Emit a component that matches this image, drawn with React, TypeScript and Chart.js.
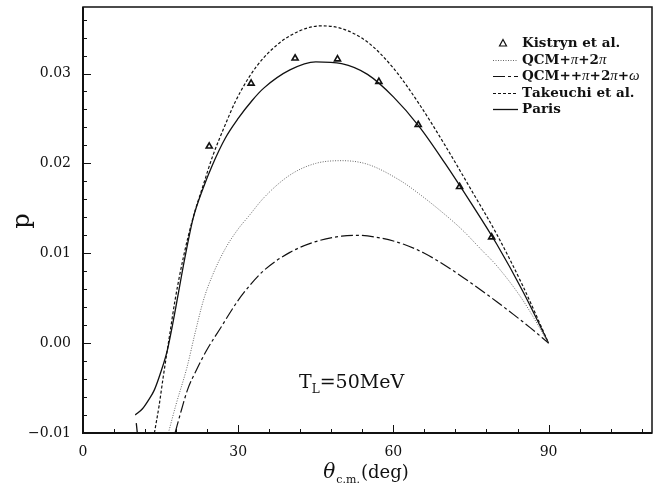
import React, { useEffect, useRef } from "react";
import { Chart, registerables } from "chart.js";

Chart.register(...registerables);

// ---- data (theta_cm in deg, p) ----
const kistrynTheta = [24.4, 32.5, 41.0, 49.2, 57.2, 64.8, 72.8, 79.0];
const kistrynP = [0.0219, 0.0289, 0.0317, 0.0316, 0.0291, 0.0243, 0.0174, 0.0118];

const qcmTheta = [16.5, 18, 20.1, 21.7, 23.3, 25, 27.5, 30, 32, 35, 40, 45, 50, 55, 61.3, 65, 70.6, 73.5, 77, 80, 85, 90];
const qcmP = [-0.01, -0.0068, -0.0027, 0.0012, 0.0048, 0.0075, 0.0105, 0.0127, 0.0141, 0.0162, 0.0187, 0.02, 0.0203, 0.0199, 0.0181, 0.0166, 0.014, 0.0125, 0.0104, 0.0086, 0.0048, 0];

const qcmOmegaTheta = [17.8, 19, 20.2, 22, 23.9, 26.5, 29.8, 32.5, 35, 40, 45, 50, 53, 57.5, 62, 66, 70.4, 75, 80, 83.2, 86.5, 90];
const qcmOmegaP = [-0.01, -0.0075, -0.0052, -0.0029, -0.0008, 0.0016, 0.0046, 0.0066, 0.0081, 0.0101, 0.0113, 0.0119, 0.012, 0.0117, 0.011, 0.01, 0.0085, 0.0067, 0.0046, 0.0032, 0.0017, 0];

const takeuchiTheta = [13.8, 14.7, 15.5, 16.8, 17.8, 19.5, 21.3, 23.2, 25, 27.5, 29.4, 32, 35, 40, 46, 50, 55, 60, 65, 70, 75, 80, 85, 90];
const takeuchiP = [-0.01, -0.007, -0.0038, 0.0011, 0.0048, 0.0098, 0.014, 0.0175, 0.0207, 0.0243, 0.0268, 0.0295, 0.0318, 0.0342, 0.0353, 0.035, 0.0335, 0.0306, 0.0266, 0.022, 0.0171, 0.0121, 0.0064, 0];

const parisTheta = [10.3, 10.5, null, 10.1, 11.5, 12.6, 13.8, 15, 16.3, 17.3, 18.2, 19.7, 21.3, 23.2, 25, 27.5, 30, 32.7, 35, 40, 45, 50, 55, 60, 65, 70, 75, 80, 85, 90];
const parisP = [-0.0089, -0.01, null, -0.008, -0.0073, -0.0064, -0.0052, -0.0033, -0.0008, 0.002, 0.0048, 0.0095, 0.0139, 0.0172, 0.0198, 0.0228, 0.025, 0.027, 0.0284, 0.0304, 0.0313, 0.0311, 0.0299, 0.0274, 0.0241, 0.02, 0.0156, 0.011, 0.0058, 0];

const xTickValues = [0, 6, 12, 18, 24, 30, 36, 42, 48, 54, 60, 66, 72, 78, 84, 90, 96, 102, 108];
const xLabelValues = [0, 30, 60, 90];
const xLabels = ["0", "30", "60", "90"];
const yTickValues = [-0.01, -0.008, -0.006, -0.004, -0.002, 0, 0.002, 0.004, 0.006, 0.008, 0.01, 0.012, 0.014, 0.016, 0.018, 0.02, 0.022, 0.024, 0.026, 0.028, 0.03, 0.032, 0.034, 0.036];
const yLabelValues = [-0.01, 0, 0.01, 0.02, 0.03];
const yLabels = ["\u22120.01", "0.00", "0.01", "0.02", "0.03"];

const legendLabels = ["Kistryn et al.", "QCM+\u03c0+2\u03c0", "QCM++\u03c0+2\u03c0+\u03c9", "Takeuchi et al.", "Paris"];

const toXY = (xs: (number | null)[], ys: (number | null)[]) =>
  xs.map((x, i) => ({ x: x as number, y: ys[i] as number }));

const SERIF = "'DejaVu Serif', 'Liberation Serif', serif";

function drawRuns(ctx: CanvasRenderingContext2D, text: string, x: number, y: number, latinFont: string, greekFont: string) {
  let cx = x;
  for (const ch of Array.from(text)) {
    const greek = /[\u0370-\u03ff]/.test(ch);
    ctx.font = greek ? greekFont : latinFont;
    ctx.fillText(ch, cx, y);
    cx += ctx.measureText(ch).width;
  }
}

const decorPlugin = {
  id: "decor",
  afterDraw(chart: any) {
    const ctx: CanvasRenderingContext2D = chart.ctx;
    const { left, right, top, bottom } = chart.chartArea;
    const xs = chart.scales.x;
    const ys = chart.scales.y;
    ctx.save();
    // frame
    ctx.strokeStyle = "#111";
    ctx.lineWidth = 1.5;
    ctx.strokeRect(left, top, right - left, bottom - top);
    ctx.lineWidth = 2;
    ctx.beginPath();
    ctx.moveTo(left, top);
    ctx.lineTo(left, bottom);
    ctx.lineTo(right, bottom);
    ctx.stroke();
    // ticks (inward)
    ctx.lineWidth = 1;
    ctx.beginPath();
    xTickValues.forEach((v) => {
      const px = Math.round(xs.getPixelForValue(v)) + 0.5;
      const len = xLabelValues.includes(v) ? 8 : 4;
      ctx.moveTo(px, bottom);
      ctx.lineTo(px, bottom - len);
    });
    yTickValues.forEach((v) => {
      const py = Math.round(ys.getPixelForValue(v)) + 0.5;
      const len = yLabelValues.some((l) => Math.abs(l - v) < 1e-9) ? 8 : 4;
      ctx.moveTo(left, py);
      ctx.lineTo(left + len, py);
    });
    ctx.stroke();
    // tick labels
    ctx.fillStyle = "#111";
    ctx.font = `14px ${SERIF}`;
    ctx.textAlign = "center";
    ctx.textBaseline = "middle";
    xLabelValues.forEach((v, i) => {
      ctx.fillText(xLabels[i], xs.getPixelForValue(v), 452);
    });
    ctx.textAlign = "right";
    yLabelValues.forEach((v, i) => {
      ctx.fillText(yLabels[i], 71, ys.getPixelForValue(v));
    });
    // y title
    ctx.save();
    ctx.translate(23, 221);
    ctx.rotate(-Math.PI / 2);
    ctx.textAlign = "center";
    ctx.textBaseline = "middle";
    ctx.font = `24px ${SERIF}`;
    ctx.fillText("p", 0, 0);
    ctx.restore();
    // x title
    ctx.textAlign = "left";
    ctx.textBaseline = "alphabetic";
    const f1 = `italic 20px ${SERIF}`;
    const f2 = `11px ${SERIF}`;
    const f3 = `18px ${SERIF}`;
    ctx.font = f1; const w1 = ctx.measureText("\u03b8").width;
    ctx.font = f2; const w2 = ctx.measureText("c.m.").width;
    ctx.font = f3; const w3 = ctx.measureText("(deg)").width;
    let tx = 366 - (w1 + w2 + w3 + 2) / 2;
    const by = 478;
    ctx.font = f1; ctx.fillText("\u03b8", tx, by); tx += w1 + 1;
    ctx.font = f2; ctx.fillText("c.m.", tx, by + 5); tx += w2 + 1;
    ctx.font = f3; ctx.fillText("(deg)", tx, by);
    // annotation T_L=50MeV
    let ax = 299;
    const ab = 388;
    ctx.font = `19px ${SERIF}`;
    ctx.fillText("T", ax, ab); ax += ctx.measureText("T").width;
    ctx.font = `12px ${SERIF}`;
    ctx.fillText("L", ax, ab + 5); ax += ctx.measureText("L").width;
    ctx.font = `19px ${SERIF}`;
    ctx.fillText("=50MeV", ax, ab);
    // legend
    const ly = [43, 60, 76, 93, 109];
    const sx0 = 493, sx1 = 518, textX = 522;
    ctx.textBaseline = "middle";
    legendLabels.forEach((t, i) =>
      drawRuns(ctx, t, textX, ly[i], `bold 13.5px ${SERIF}`, "italic 15px 'Liberation Serif', serif")
    );
    // legend marker triangle
    ctx.lineWidth = 1.2;
    ctx.strokeStyle = "#111";
    ctx.beginPath();
    ctx.moveTo(503, ly[0] - 3.5);
    ctx.lineTo(506.5, ly[0] + 3);
    ctx.lineTo(499.5, ly[0] + 3);
    ctx.closePath();
    ctx.stroke();
    const styles = [
      { dash: [1, 1.5], color: "#666", w: 1 },
      { dash: [12, 3, 3, 3], color: "#111", w: 1.2 },
      { dash: [3, 2], color: "#111", w: 1.2 },
      { dash: [], color: "#111", w: 1.3 },
    ];
    styles.forEach((s, i) => {
      ctx.strokeStyle = s.color;
      ctx.lineWidth = s.w;
      ctx.setLineDash(s.dash);
      ctx.beginPath();
      ctx.moveTo(sx0, ly[i + 1] + 0.5);
      ctx.lineTo(sx1, ly[i + 1] + 0.5);
      ctx.stroke();
    });
    ctx.setLineDash([]);
    ctx.restore();
  },
};

export default function App() {
  const ref = useRef<HTMLCanvasElement | null>(null);
  useEffect(() => {
    if (!ref.current) return;
    const lineBase = {
      showLine: true,
      pointRadius: 0,
      fill: false,
      tension: 0,
      cubicInterpolationMode: "monotone" as const,
      spanGaps: false,
    };
    const chart = new Chart(ref.current, {
      type: "scatter",
      data: {
        datasets: [
          {
            ...lineBase,
            label: legendLabels[1],
            data: toXY(qcmTheta, qcmP),
            borderColor: "#666",
            borderWidth: 1,
            borderDash: [1, 1.5],
          },
          {
            ...lineBase,
            label: legendLabels[2],
            data: toXY(qcmOmegaTheta, qcmOmegaP),
            borderColor: "#111",
            borderWidth: 1.2,
            borderDash: [12, 3, 3, 3],
          },
          {
            ...lineBase,
            label: legendLabels[3],
            data: toXY(takeuchiTheta, takeuchiP),
            borderColor: "#111",
            borderWidth: 1.2,
            borderDash: [3, 2],
          },
          {
            ...lineBase,
            label: legendLabels[4],
            data: toXY(parisTheta, parisP),
            borderColor: "#111",
            borderWidth: 1.3,
          },
          {
            label: legendLabels[0],
            data: toXY(kistrynTheta, kistrynP),
            showLine: false,
            pointStyle: "triangle",
            pointRadius: 3.5,
            borderWidth: 1.6,
            borderColor: "#111",
            backgroundColor: "#fff",
          },
        ],
      },
      options: {
        animation: false,
        responsive: false,
        devicePixelRatio: 1,
        layout: { padding: { left: 83, right: 6, top: 7, bottom: 58 } },
        plugins: { legend: { display: false }, tooltip: { enabled: false } },
        scales: {
          x: { type: "linear", min: 0, max: 110, display: false },
          y: { type: "linear", min: -0.01, max: 0.0374, display: false },
        },
      },
      plugins: [decorPlugin],
    });
    return () => chart.destroy();
  }, []);
  return (
    <div style={{ position: "absolute", left: 0, top: 0, width: 658, height: 491, background: "#fff" }}>
      <canvas ref={ref} width={658} height={491} style={{ width: 658, height: 491, display: "block" }} />
    </div>
  );
}
